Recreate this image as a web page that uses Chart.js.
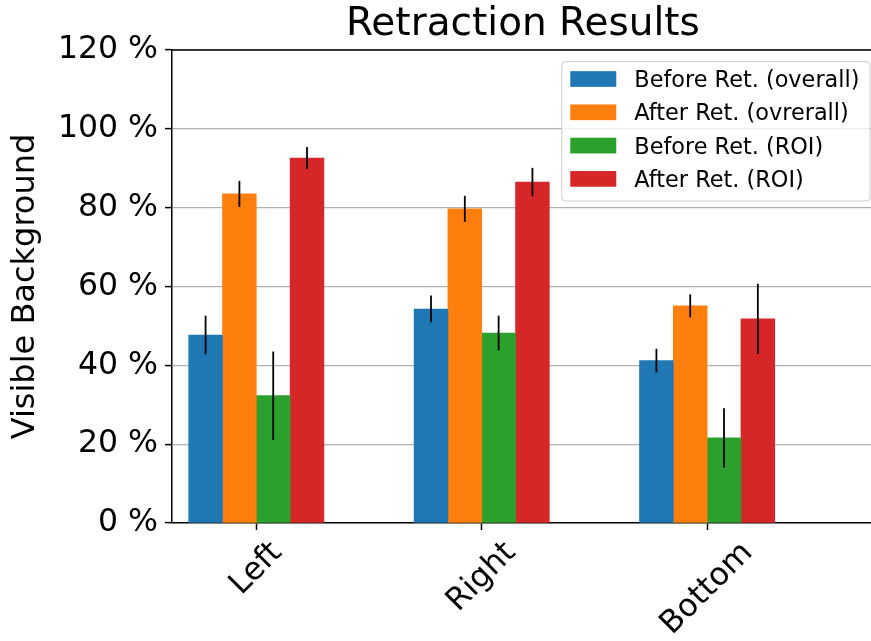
<!DOCTYPE html>
<html>
<head>
<meta charset="utf-8">
<script src="https://cdn.jsdelivr.net/npm/chart.js@4/dist/chart.umd.min.js"></script>
<style>
  html, body { margin: 0; padding: 0; background: #fff; }
  #wrap { width: 871px; height: 641px; }
</style>
</head>
<body>
<div id="wrap"><canvas id="c" width="871" height="641"></canvas></div>
<script>
// Retraction results: share of visible background per side
const categories = ['Left', 'Right', 'Bottom'];
const seriesLabels = ['Before Ret. (overall)', 'After Ret. (ovrerall)', 'Before Ret. (ROI)', 'After Ret. (ROI)'];
const beforeOverall = [47.7, 54.3, 41.2];
const afterOverall  = [83.5, 79.7, 55.1];
const beforeROI     = [32.3, 48.2, 21.6];
const afterROI      = [92.6, 86.5, 51.8];
const errBeforeOverall = [4.9, 3.4, 3.0];
const errAfterOverall  = [3.3, 3.3, 2.9];
const errBeforeROI     = [11.2, 4.4, 7.5];
const errAfterROI      = [2.8, 3.6, 8.9];
const yTicks = [0, 20, 40, 60, 80, 100, 120];
const chartTitle = 'Retraction Results';

const colors = ['#1f77b4', '#ff7f0e', '#2ca02c', '#d62728'];
const values = [beforeOverall, afterOverall, beforeROI, afterROI];
const errors = [errBeforeOverall, errAfterOverall, errBeforeROI, errAfterROI];

const FONT = "'DejaVu Sans', 'Liberation Sans', sans-serif";
const barWidthUnits = 0.15;
const xMin = -0.374, xMax = 2.727;

const datasets = values.map((vals, s) => ({
  label: seriesLabels[s],
  backgroundColor: colors[s],
  borderWidth: 0,
  grouped: false,
  data: vals.map((v, i) => ({ x: i + (s - 1.5) * barWidthUnits, y: v, err: errors[s][i] }))
}));

// Title, vertical error bars, top spine, rotated category labels and framed legend
const decorations = {
  id: 'decorations',
  afterDraw(chart) {
    const ctx = chart.ctx;
    const area = chart.chartArea;
    const xs = chart.scales.x, ys = chart.scales.y;

    // error bars
    ctx.save();
    ctx.strokeStyle = '#000';
    ctx.lineWidth = 1.8;
    chart.data.datasets.forEach((ds, di) => {
      const meta = chart.getDatasetMeta(di);
      meta.data.forEach((bar, i) => {
        const d = ds.data[i];
        ctx.beginPath();
        ctx.moveTo(bar.x, ys.getPixelForValue(d.y - d.err));
        ctx.lineTo(bar.x, ys.getPixelForValue(d.y + d.err));
        ctx.stroke();
      });
    });
    ctx.restore();

    // top spine
    ctx.save();
    ctx.strokeStyle = '#000';
    ctx.lineWidth = 1.5;
    ctx.beginPath();
    ctx.moveTo(area.left - 0.75, area.top);
    ctx.lineTo(chart.width, area.top);
    ctx.stroke();
    ctx.restore();

    // title, centred over the axes (which run slightly past the right edge)
    ctx.save();
    ctx.fillStyle = '#000';
    ctx.font = '39px ' + FONT;
    ctx.textAlign = 'center';
    ctx.textBaseline = 'alphabetic';
    const axesRight = xs.getPixelForValue(2.74);
    ctx.fillText(chartTitle, (area.left + axesRight) / 2, area.top - 15);
    ctx.restore();

    // category labels, rotated 45 degrees and centred below each tick
    ctx.save();
    ctx.fillStyle = '#000';
    ctx.font = '31.5px ' + FONT;
    ctx.textAlign = 'center';
    ctx.textBaseline = 'middle';
    const lineH = 31.5 * 1.164;
    categories.forEach((c, i) => {
      const px = xs.getPixelForValue(i);
      const w = ctx.measureText(c).width;
      const boxH = (w + lineH) * Math.SQRT1_2;
      const cy = area.bottom + 12 + boxH / 2;
      ctx.save();
      ctx.translate(px, cy);
      ctx.rotate(-Math.PI / 4);
      ctx.fillText(c, 0, 0);
      ctx.restore();
    });
    ctx.restore();

    // legend
    ctx.save();
    const fs = 22.4;
    ctx.font = fs + 'px ' + FONT;
    const maxW = Math.max(...seriesLabels.map(t => ctx.measureText(t).width));
    const boxRight = chart.width - 1.5;
    const boxTop = area.top + 11;
    const rowGap = 33.3;
    const swW = 46, swH = 15.7, padL = 9, textGap = 18;
    const boxW = padL + swW + textGap + maxW + 10;
    const boxH = 139.5;
    const boxLeft = boxRight - boxW;
    ctx.beginPath();
    ctx.roundRect(boxLeft + 0.5, boxTop + 0.5, boxW, boxH, 4);
    ctx.fillStyle = 'rgba(255,255,255,0.8)';
    ctx.fill();
    ctx.strokeStyle = '#cccccc';
    ctx.lineWidth = 1;
    ctx.stroke();
    ctx.textAlign = 'left';
    ctx.textBaseline = 'alphabetic';
    seriesLabels.forEach((t, s) => {
      const cy = boxTop + 18 + s * rowGap;
      ctx.fillStyle = colors[s];
      ctx.fillRect(boxLeft + padL, cy - swH / 2, swW, swH);
      ctx.fillStyle = '#000';
      ctx.fillText(t, boxLeft + padL + swW + textGap, cy + fs * 0.729 / 2);
    });
    ctx.restore();
  }
};

new Chart(document.getElementById('c'), {
  type: 'bar',
  data: { datasets },
  options: {
    responsive: false,
    animation: false,
    devicePixelRatio: 1,
    layout: { padding: { top: 50, left: 0, right: 0, bottom: 0 } },
    barThickness: 33.8,
    plugins: {
      legend: { display: false },
      tooltip: { enabled: false },
      title: { display: false }
    },
    scales: {
      x: {
        type: 'linear',
        offset: false,
        min: xMin,
        max: xMax,
        afterBuildTicks(scale) { scale.ticks = categories.map((c, i) => ({ value: i })); },
        afterFit(scale) { scale.height = 118; },
        ticks: { display: false },
        grid: { display: true, offset: false, drawOnChartArea: false, drawTicks: true, tickLength: 7, tickColor: '#000', tickWidth: 1.5 },
        border: { display: true, color: '#000', width: 1.5 }
      },
      y: {
        min: 0,
        max: 120,
        z: 1,
        afterBuildTicks(scale) { scale.ticks = yTicks.map(v => ({ value: v })); },
        afterFit(scale) { scale.width = 172; },
        ticks: {
          color: '#000',
          padding: 7,
          font: { family: FONT, size: 31.5 },
          callback: v => v + ' %'
        },
        grid: {
          color: ctx => (ctx.tick && ctx.tick.value === 0) ? 'rgba(0,0,0,0)' : '#b0b0b0',
          lineWidth: 1.2,
          tickLength: 7,
          tickColor: '#000',
          tickWidth: 1.5
        },
        border: { display: true, color: '#000', width: 1.5 },
        title: {
          display: true,
          text: 'Visible Background',
          color: '#000',
          font: { family: FONT, size: 32 },
          padding: { top: 6, bottom: 0 }
        }
      }
    }
  },
  plugins: [decorations]
});
</script>
</body>
</html>
